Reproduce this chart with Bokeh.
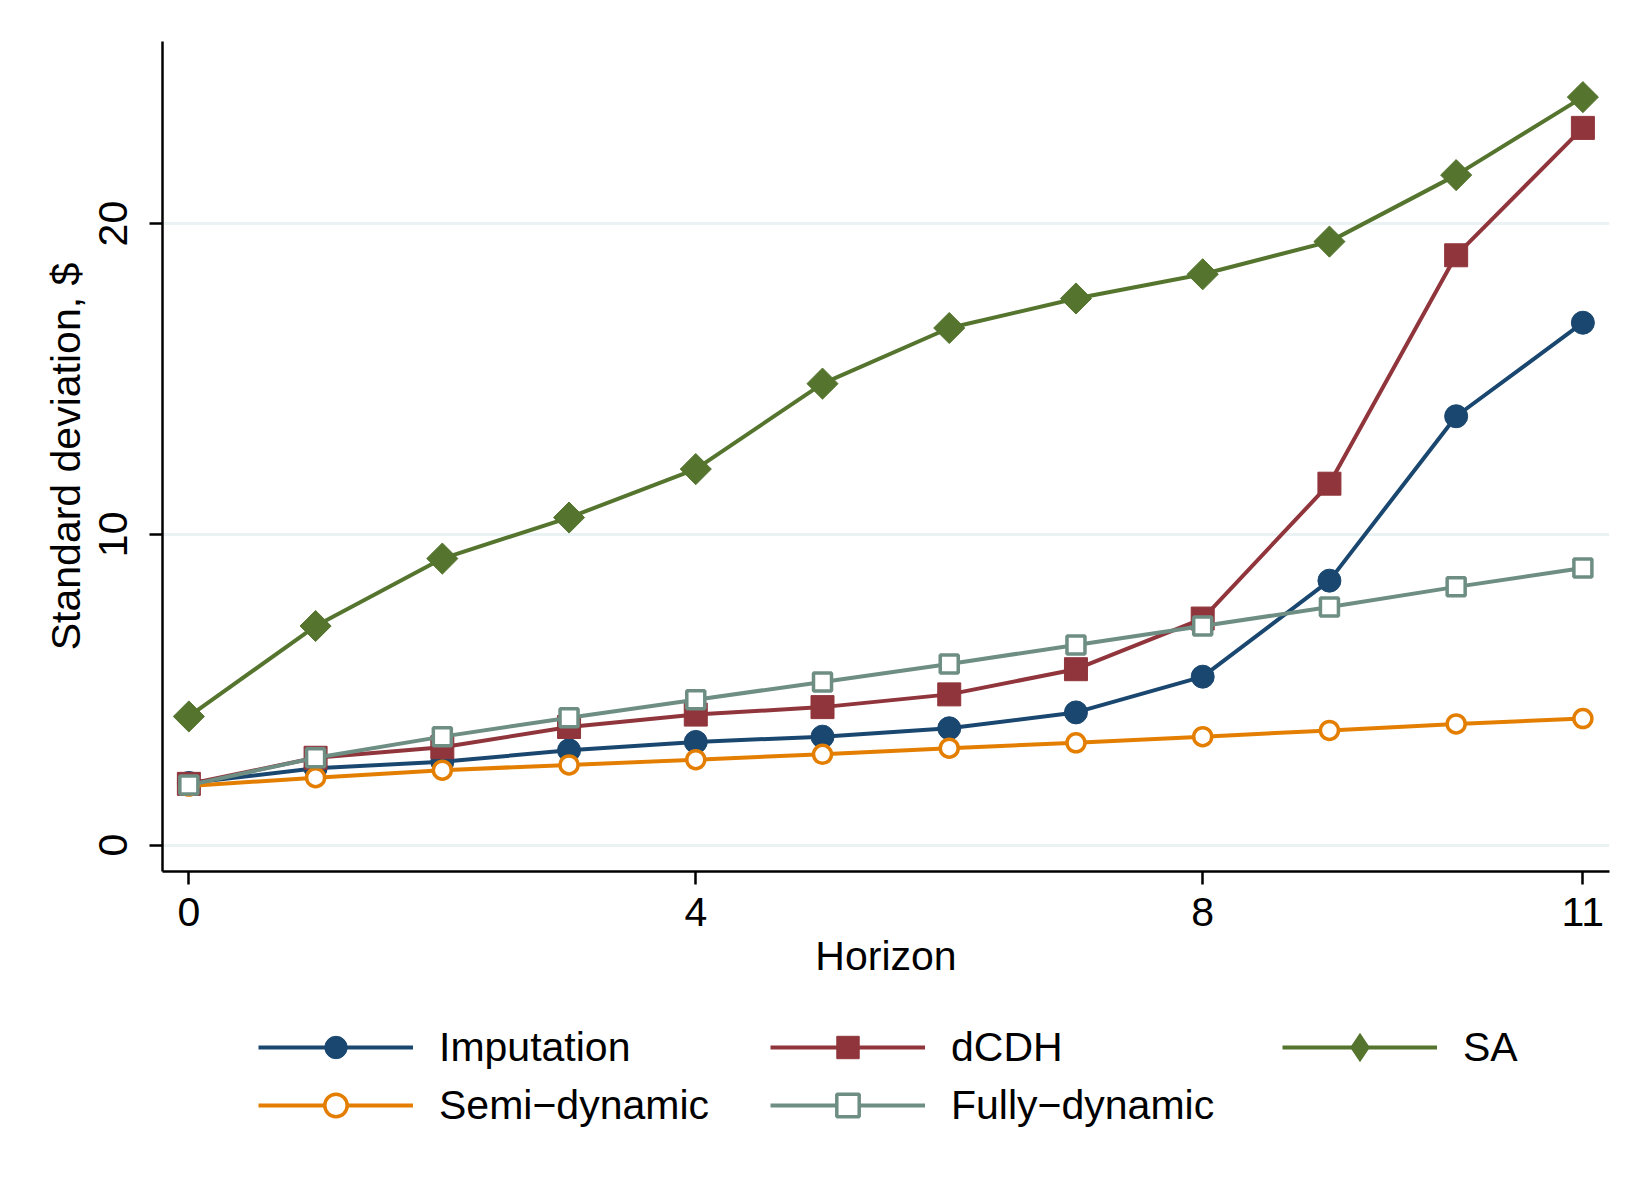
import numpy as np
from bokeh.plotting import figure
from bokeh.layouts import column
from bokeh.models import Legend, LegendItem, Range1d, FixedTicker
from bokeh.embed import file_html
from bokeh.resources import INLINE

horizon = list(range(12))
imputation = [2.00, 2.47, 2.68, 3.05, 3.32, 3.49, 3.76, 4.27, 5.42, 8.51, 13.80, 16.81]
dcdh = [1.97, 2.81, 3.15, 3.80, 4.20, 4.44, 4.85, 5.66, 7.29, 11.63, 18.98, 23.08]
sa = [4.14, 7.05, 9.22, 10.54, 12.10, 14.85, 16.64, 17.59, 18.37, 19.42, 21.56, 24.07]
semi = [1.90, 2.17, 2.41, 2.58, 2.75, 2.92, 3.12, 3.29, 3.49, 3.69, 3.90, 4.07]
fully = [1.93, 2.81, 3.49, 4.10, 4.68, 5.25, 5.83, 6.44, 7.05, 7.66, 8.31, 8.92]

labels = ["Imputation", "dCDH", "SA", "Semi\u2212dynamic", "Fully\u2212dynamic"]
x_ticks = [0, 4, 8, 11]
y_ticks = [0, 10, 20]

FONT = "Liberation Sans"
FS = "41px"
LW = 4

series = [
    dict(y=imputation, color="#1a476f", marker="circle", lmarker="circle", size=23, fill=True, angle=0.0),
    dict(y=dcdh, color="#90353b", marker="square", lmarker="square", size=23, fill=True, angle=0.0),
    dict(y=sa, color="#55752f", marker="square", lmarker="diamond", size=22, fill=True, angle=np.pi / 4),
    dict(y=semi, color="#e37e00", marker="circle", lmarker="circle", size=18, fill=False, angle=0.0),
    dict(y=fully, color="#6e8e84", marker="square", lmarker="square", size=18, fill=False, angle=0.0),
]

# ---------------- main chart ----------------
p = figure(width=1634, height=1000, output_backend="svg", toolbar_location=None,
           x_range=Range1d(-0.208, 11.21), y_range=Range1d(-0.85, 25.86),
           min_border_left=162, min_border_right=25, min_border_top=41,
           min_border_bottom=129)
p.outline_line_color = None
p.background_fill_color = "white"
p.border_fill_color = "white"

p.xgrid.visible = False
p.ygrid.grid_line_color = "#eaf2f3"
p.ygrid.grid_line_width = 3
p.ygrid.ticker = FixedTicker(ticks=y_ticks)

for ax in (p.xaxis[0], p.yaxis[0]):
    ax.axis_line_color = "black"
    ax.axis_line_width = 2.5
    ax.major_tick_line_color = "black"
    ax.major_tick_line_width = 2.5
    ax.major_tick_in = 0
    ax.major_tick_out = 13
    ax.minor_tick_line_color = None
    ax.major_label_text_font = FONT
    ax.major_label_text_font_size = FS
    ax.major_label_text_color = "black"
    ax.axis_label_text_font = FONT
    ax.axis_label_text_font_size = FS
    ax.axis_label_text_font_style = "normal"
    ax.axis_label_text_color = "black"

p.xaxis.ticker = FixedTicker(ticks=x_ticks)
p.yaxis.ticker = FixedTicker(ticks=y_ticks)
p.xaxis.axis_label = "Horizon"
p.yaxis.axis_label = "Standard deviation, $"
p.yaxis.major_label_orientation = "vertical"
p.xaxis.major_label_standoff = 13
p.yaxis.major_label_standoff = 22
p.xaxis.axis_label_standoff = 4
p.yaxis.axis_label_standoff = 8


def draw(fig, visible=True, legend_shapes=False):
    out = []
    for s in series:
        l = fig.line(horizon, s["y"], line_color=s["color"], line_width=LW, visible=visible)
        marker = s["lmarker"] if legend_shapes else s["marker"]
        angle = 0.0 if legend_shapes else s["angle"]
        if s["fill"]:
            extra = dict(line_width=4, line_join="miter") if marker == "diamond" else {}
            m = fig.scatter(horizon, s["y"], marker=marker, size=s["size"], angle=angle,
                            fill_color=s["color"], line_color=s["color"], visible=visible, **extra)
        else:
            m = fig.scatter(horizon, s["y"], marker=marker, size=s["size"], angle=angle,
                            fill_color="white", line_color=s["color"], line_width=3.5,
                            visible=visible)
        out.append((l, m))
    return out


draw(p)

# ---------------- legend strip ----------------
q = figure(width=1634, height=184, output_backend="svg", toolbar_location=None,
           x_axis_type=None, y_axis_type=None,
           x_range=Range1d(-0.208, 11.21), y_range=Range1d(-0.85, 25.86),
           min_border_left=0, min_border_right=0, min_border_top=0, min_border_bottom=0)
q.outline_line_color = None
q.background_fill_color = "white"
q.border_fill_color = "white"
q.xgrid.visible = False
q.ygrid.visible = False

rends = draw(q, visible=False, legend_shapes=True)
items = [LegendItem(label=lab, renderers=[l, m]) for lab, (l, m) in zip(labels, rends)]

legend = Legend(items=items, location=(96, 51), orientation="horizontal", ncols=3,
                glyph_width=155, glyph_height=56, label_height=56, label_width=329,
                label_standoff=26, spacing=2, padding=0, margin=0,
                border_line_color=None, background_fill_alpha=0,
                inactive_fill_alpha=0, click_policy="none",
                label_text_font=FONT, label_text_font_size=FS, label_text_color="black")
q.add_layout(legend, "center")

layout = column(p, q, spacing=0)
open("out.html", "w").write(file_html(layout, INLINE))
